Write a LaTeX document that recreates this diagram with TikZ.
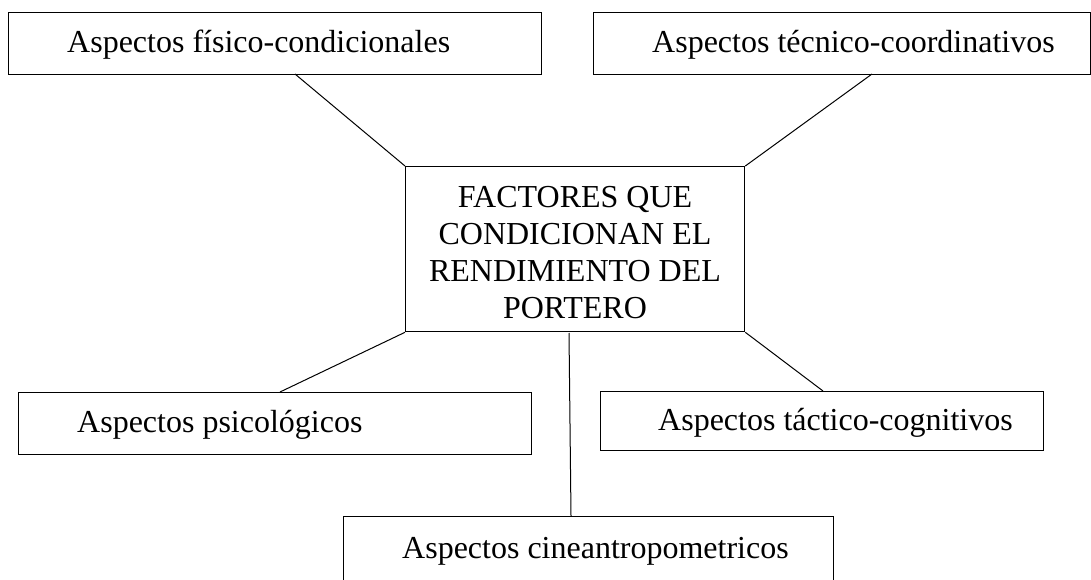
\documentclass[tikz,border=0pt]{standalone}
\usepackage{fontspec}
\setmainfont{Liberation Serif}
\begin{document}
\begin{tikzpicture}[x=1pt,y=-1pt,
  box/.style={draw, line width=1.3pt, inner sep=0pt, anchor=north west},
  lbl/.style={inner sep=0pt, anchor=base west, font=\fontsize{32}{37}\selectfont},
  clbl/.style={inner sep=0pt, anchor=base, font=\fontsize{32}{37}\selectfont},
  conn/.style={line width=1pt}]
\useasboundingbox (0,0) rectangle (1091,580);
\clip (0,0) rectangle (1091,580);
% boxes
\node[box, minimum width=533pt, minimum height=62pt] (tl) at (8,12) {};
\node[box, minimum width=497pt, minimum height=62pt] (tr) at (593,12) {};
\node[box, minimum width=339pt, minimum height=165pt] (ctr) at (405,166) {};
\node[box, minimum width=513pt, minimum height=62pt] (bl) at (18,392) {};
\node[box, minimum width=443pt, minimum height=59pt] (br) at (600,391) {};
\node[box, minimum width=490pt, minimum height=90pt] (bc) at (343,516) {};
% texts
\node[lbl] (tlt) at (67,53) {Aspectos físico-condicionales};
\node[lbl] (trt) at (652,53) {Aspectos técnico-coordinativos};
\node[clbl] (c1) at (575,207) {FACTORES QUE};
\node[clbl] (c2) at (575,244) {CONDICIONAN EL};
\node[clbl] (c3) at (575,281) {RENDIMIENTO DEL};
\node[clbl] (c4) at (575,318) {PORTERO};
\node[lbl] (blt) at (77,432) {Aspectos psicológicos};
\node[lbl] (brt) at (658,430) {Aspectos táctico-cognitivos};
\node[lbl] (bct) at (402,558) {Aspectos cineantropometricos};
% connector end points
\coordinate (tlA) at (295,74);
\coordinate (trA) at (872,74);
\coordinate (blA) at (280,392);
\coordinate (brA) at (823,391);
\coordinate (bcA) at (569,333);
\coordinate (bcB) at (571,516);
% connectors
\draw[conn] (tlA) -- (ctr.north west);
\draw[conn] (trA) -- (ctr.north east);
\draw[conn] (ctr.south west) -- (blA);
\draw[conn] (ctr.south east) -- (brA);
\draw[conn] (bcA) -- (bcB);
\end{tikzpicture}
\end{document}
